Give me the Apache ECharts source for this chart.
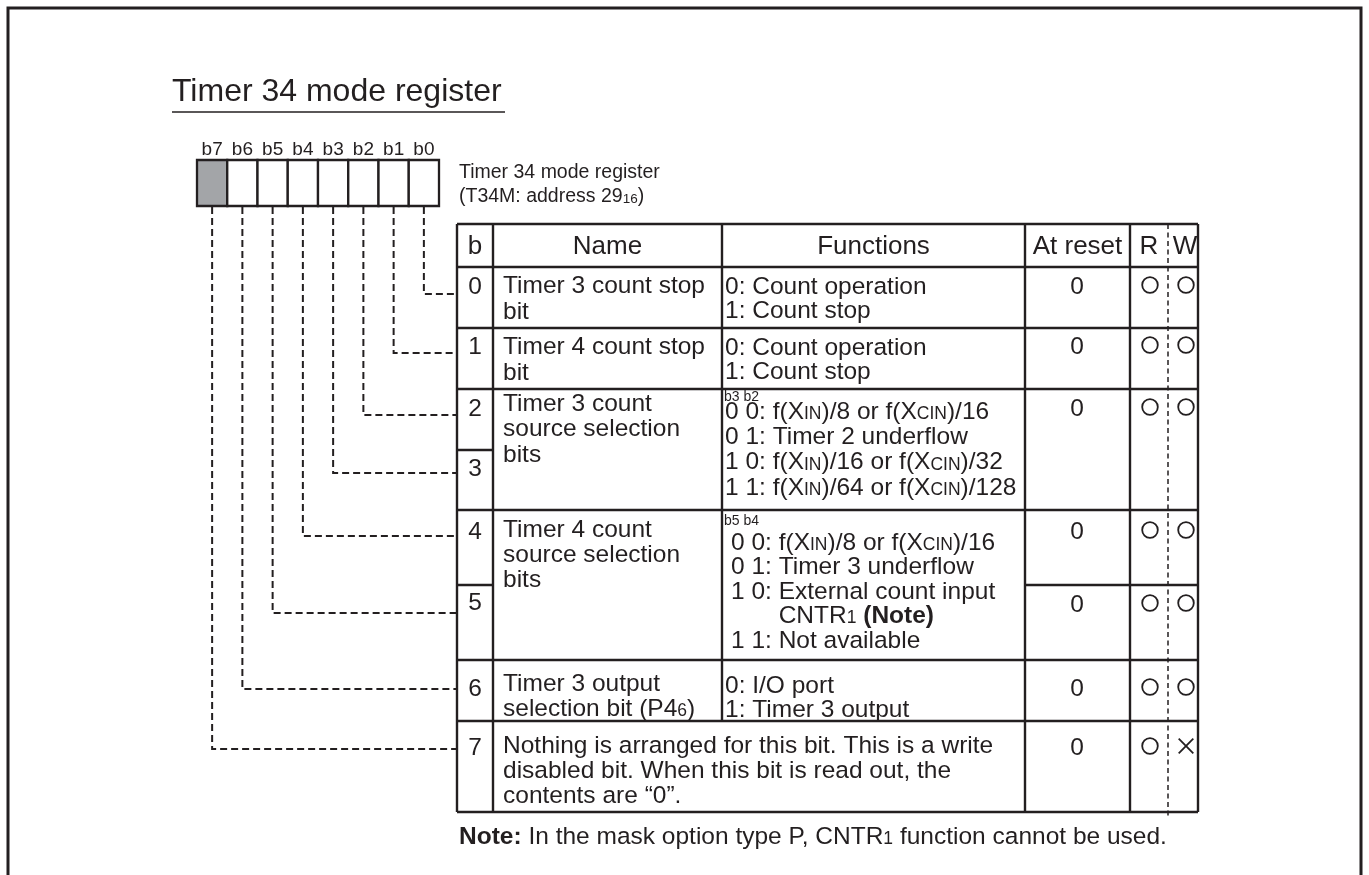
<!DOCTYPE html>
<html>
<head>
<meta charset="utf-8">
<script src="https://cdn.jsdelivr.net/npm/echarts@6/dist/echarts.min.js"></script>
<style>html,body{margin:0;padding:0;background:#fff}#c{width:1369px;height:875px}</style>
</head>
<body>
<div id="c"></div>
<script>
// ---------------- data ----------------
const titleText = 'Timer 34 mode register';
const bitLabels = ['b7', 'b6', 'b5', 'b4', 'b3', 'b2', 'b1', 'b0'];
const bitShaded = [true, false, false, false, false, false, false, false];
const registerCaption = ['Timer 34 mode register', '(T34M: address 29{s|16})'];
const headers = ['b', 'Name', 'Functions', 'At reset', 'R', 'W'];
const bitNumbers = ['0', '1', '2', '3', '4', '5', '6', '7'];
const groupBits = [[0], [1], [2, 3], [4, 5], [6], [7]];
const groupNames = [
  'Timer 3 count stop\nbit',
  'Timer 4 count stop\nbit',
  'Timer 3 count\nsource selection\nbits',
  'Timer 4 count\nsource selection\nbits',
  'Timer 3 output\nselection bit (P4{s|6})',
  'Nothing is arranged for this bit. This is a write\ndisabled bit. When this bit is read out, the\ncontents are \u201c0\u201d.'
];
const groupFunctionHeads = ['', '', 'b3 b2', 'b5 b4', '', ''];
const groupFunctions = [
  '0: Count operation\n1: Count stop',
  '0: Count operation\n1: Count stop',
  '0 0: f(X{s|IN})/8 or f(X{s|CIN})/16\n0 1: Timer 2 underflow\n1 0: f(X{s|IN})/16 or f(X{s|CIN})/32\n1 1: f(X{s|IN})/64 or f(X{s|CIN})/128',
  '0 0: f(X{s|IN})/8 or f(X{s|CIN})/16\n0 1: Timer 3 underflow\n1 0: External count input\n       CNTR{s|1} {b|(Note)}\n1 1: Not available',
  '0: I/O port\n1: Timer 3 output',
  ''
];
// reset cells
const resetFirstBit = [0, 1, 2, 4, 5, 6, 7];
const resetLastBit  = [0, 1, 3, 4, 5, 6, 7];
const resetValues   = ['0', '0', '0', '0', '0', '0', '0'];
const readFlags     = ['O', 'O', 'O', 'O', 'O', 'O', 'O'];
const writeFlags    = ['O', 'O', 'O', 'O', 'O', 'O', 'X'];
const noteText = '{b|Note:} In the mask option type P, CNTR{s|1} function cannot be used.';

// ---------------- layout / style ----------------
const INK = '#231f20';
const FONT = "'Liberation Sans', Arial, Helvetica, sans-serif";
const FS = 24.5, HFS = 26, LH = 25.5;
const L = {
  frame: [8, 8, 1361, 900],
  titleX: 172, titleY: 92, underlineY: 112, underlineX2: 505,
  boxX: 197, boxW: 30.25, boxY: 160, boxH: 46, bitLabelY: 150,
  captionX: 459, captionY: [173, 197],
  cols: [457, 493, 722, 1025, 1130, 1168, 1198],
  headTop: 224, headBottom: 267,
  rowTops: [267, 328, 389, 450, 510, 585, 660, 721], tableBottom: 812,
  connOffset: [27, 25, 26, 23, 26, 28, 29, 28],
  numOffset: [20, 19, 20, 19, 22, 18, 29, 27],
  nameX: 503, nameOffset: [19, 19, 15, 20, 24, 25], nameLH: [26, 26, 25.5, 25, 25, 25],
  funcX: [725, 725, 725, 731, 725, 725], funcOffset: [20, 20, 23, 33, 26, 0],
  funcLH: [24.5, 24.5, 25.3, 24.5, 24, 25],
  headOffset: [0, 0, 8, 11, 0, 0], headX: 724,
  resetX: 1077, rX: 1150, wX: 1186, resetOffset: [20, 19, 20, 22, 20, 29, 27], markR: 7.8,
  noteX: 459, noteY: 837
};
const RICH = {
  s: { fontSize: 17.5, fontFamily: FONT, fill: INK, lineHeight: 17, height: 20.6, verticalAlign: 'bottom' },
  b: { fontSize: FS, fontFamily: FONT, fill: INK, fontWeight: 'bold' }
};
const RICH_CAPTION = {
  s: { fontSize: 13.5, fontFamily: FONT, fill: INK, lineHeight: 13.5, height: 19.8, verticalAlign: 'bottom' }
};

function rowTop(bit) { return bit < 8 ? L.rowTops[bit] : L.tableBottom; }
function P(api, x, y) { return api.coord([x, y]); }
function ln(api, x1, y1, x2, y2, w, dash) {
  const a = P(api, x1, y1), b = P(api, x2, y2);
  return { type: 'line', shape: { x1: a[0], y1: a[1], x2: b[0], y2: b[1] },
    style: { stroke: INK, lineWidth: w, lineDash: dash || null } };
}
function tx(api, x, y, str, o) {
  const p = P(api, x, y);
  return { type: 'text', x: p[0], y: p[1], z2: 10,
    style: Object.assign({ text: str, fill: INK, fontFamily: FONT, fontSize: FS,
      align: 'left', verticalAlign: 'middle', lineHeight: LH, rich: RICH }, o || {}) };
}
function idx(arr) { return arr.map((_, i) => [i, i]); }

const series = [];

// frame, title, caption
series.push({ type: 'custom', data: [[0, 0]], renderItem: (params, api) => {
  const a = P(api, L.frame[0], L.frame[1]), b = P(api, L.frame[2], L.frame[3]);
  return { type: 'group', children: [
    { type: 'rect', shape: { x: a[0], y: a[1], width: b[0] - a[0], height: b[1] - a[1] },
      style: { fill: 'none', stroke: INK, lineWidth: 3 } },
    tx(api, L.titleX, L.titleY, titleText, { fontSize: 32 }),
    ln(api, L.titleX, L.underlineY, L.underlineX2, L.underlineY, 1.5),
    tx(api, L.captionX, L.captionY[0], registerCaption[0], { fontSize: 19.5, lineHeight: 24 }),
    tx(api, L.captionX, L.captionY[1], registerCaption[1], { fontSize: 19.5, lineHeight: 24, rich: RICH_CAPTION })
  ] };
} });

// register boxes
series.push({ type: 'custom', data: idx(bitLabels), renderItem: (params, api) => {
  const i = params.dataIndex;
  const a = P(api, L.boxX + i * L.boxW, L.boxY), b = P(api, L.boxX + (i + 1) * L.boxW, L.boxY + L.boxH);
  return { type: 'group', children: [
    { type: 'rect', shape: { x: a[0], y: a[1], width: b[0] - a[0], height: b[1] - a[1] },
      style: { fill: bitShaded[i] ? '#a3a5a8' : '#ffffff', stroke: INK, lineWidth: 2.3 } },
    tx(api, L.boxX + (i + 0.5) * L.boxW, L.bitLabelY, bitLabels[i], { fontSize: 19, align: 'center' })
  ] };
} });

// dashed connectors
series.push({ type: 'custom', data: idx(bitNumbers), renderItem: (params, api) => {
  const bit = params.dataIndex;
  const box = 7 - bit;
  const cx = L.boxX + (box + 0.5) * L.boxW;
  const y = rowTop(bit) + L.connOffset[bit];
  const pts = [P(api, cx, L.boxY + L.boxH + 1), P(api, cx, y), P(api, L.cols[0], y)];
  return { type: 'polyline', shape: { points: pts },
    style: { stroke: INK, lineWidth: 2, lineDash: [7, 4], fill: null } };
} });

// table grid lines
series.push({ type: 'custom', data: [[0, 0]], renderItem: (params, api) => {
  const c = L.cols, top = L.headTop, bot = L.tableBottom, W = 2.4;
  const ch = [];
  ch.push(ln(api, c[0], top, c[6], top, W));
  ch.push(ln(api, c[0], bot, c[6], bot, W));
  ch.push(ln(api, c[0], L.headBottom, c[6], L.headBottom, W));
  ch.push(ln(api, c[0], top, c[0], bot, W));
  ch.push(ln(api, c[1], top, c[1], bot, W));
  const lastGroupTop = rowTop(groupBits[groupBits.length - 1][0]);
  ch.push(ln(api, c[2], top, c[2], lastGroupTop, W));
  ch.push(ln(api, c[3], top, c[3], bot, W));
  ch.push(ln(api, c[4], top, c[4], bot, W));
  ch.push(ln(api, c[5], top, c[5], bot + 4, 1.5, [5, 3.5]));
  ch.push(ln(api, c[6], top, c[6], bot, W));
  groupBits.forEach((g, gi) => {
    if (gi > 0) ch.push(ln(api, c[0], rowTop(g[0]), c[6], rowTop(g[0]), W));
    for (let k = 1; k < g.length; k++) ch.push(ln(api, c[0], rowTop(g[k]), c[1], rowTop(g[k]), W));
  });
  resetFirstBit.forEach((fb) => {
    const isGroupStart = groupBits.some(g => g[0] === fb);
    if (!isGroupStart) ch.push(ln(api, c[3], rowTop(fb), c[6], rowTop(fb), W));
  });
  return { type: 'group', children: ch };
} });

// header
series.push({ type: 'custom', data: idx(headers), renderItem: (params, api) => {
  const i = params.dataIndex;
  const x = (L.cols[i] + L.cols[i + 1]) / 2 + (i === 5 ? 2 : 0);
  return tx(api, x, (L.headTop + L.headBottom) / 2 + 1, headers[i], { fontSize: HFS, align: 'center' });
} });

// rows: bit numbers, names, functions
series.push({ type: 'custom', data: idx(groupNames), renderItem: (params, api) => {
  const g = params.dataIndex;
  const bits = groupBits[g];
  const top = rowTop(bits[0]);
  const ch = [];
  bits.forEach(b => {
    ch.push(tx(api, (L.cols[0] + L.cols[1]) / 2, rowTop(b) + L.numOffset[b], bitNumbers[b], { align: 'center' }));
  });
  ch.push(tx(api, L.nameX, top + L.nameOffset[g] - L.nameLH[g] / 2, groupNames[g],
    { verticalAlign: 'top', lineHeight: L.nameLH[g] }));
  if (groupFunctions[g]) {
    ch.push(tx(api, L.funcX[g], top + L.funcOffset[g] - L.funcLH[g] / 2, groupFunctions[g],
      { verticalAlign: 'top', lineHeight: L.funcLH[g] }));
  }
  if (groupFunctionHeads[g]) {
    ch.push(tx(api, L.headX, top + L.headOffset[g], groupFunctionHeads[g], { fontSize: 14, lineHeight: 14 }));
  }
  return { type: 'group', children: ch };
} });

// reset / R / W cells
series.push({ type: 'custom', data: idx(resetValues), renderItem: (params, api) => {
  const i = params.dataIndex;
  const top = rowTop(resetFirstBit[i]);
  const yc = top + L.resetOffset[i];
  const ym = yc - 2;
  const ch = [];
  ch.push(tx(api, L.resetX, yc, resetValues[i], { align: 'center' }));
  function mark(flag, x) {
    const c = P(api, x, ym);
    if (flag === 'O') {
      ch.push({ type: 'circle', shape: { cx: c[0], cy: c[1], r: L.markR },
        style: { fill: 'none', stroke: INK, lineWidth: 1.8 } });
    } else {
      const r = L.markR - 0.5;
      ch.push(ln(api, x - r, ym - r, x + r, ym + r, 1.8));
      ch.push(ln(api, x - r, ym + r, x + r, ym - r, 1.8));
    }
  }
  mark(readFlags[i], L.rX);
  mark(writeFlags[i], L.wX);
  return { type: 'group', children: ch };
} });

// note
series.push({ type: 'custom', data: [[0, 0]], renderItem: (params, api) => {
  return tx(api, L.noteX, L.noteY, noteText, {});
} });

series.forEach(s => { s.coordinateSystem = 'cartesian2d'; s.silent = true; s.clip = false; s.animation = false; });

const chart = echarts.init(document.getElementById('c'));
chart.setOption({
  animation: false,
  grid: { left: 0, right: 0, top: 0, bottom: 0, containLabel: false },
  xAxis: { type: 'value', min: 0, max: 1369, show: false },
  yAxis: { type: 'value', min: 0, max: 875, inverse: true, show: false },
  series: series
});
</script>
</body>
</html>
